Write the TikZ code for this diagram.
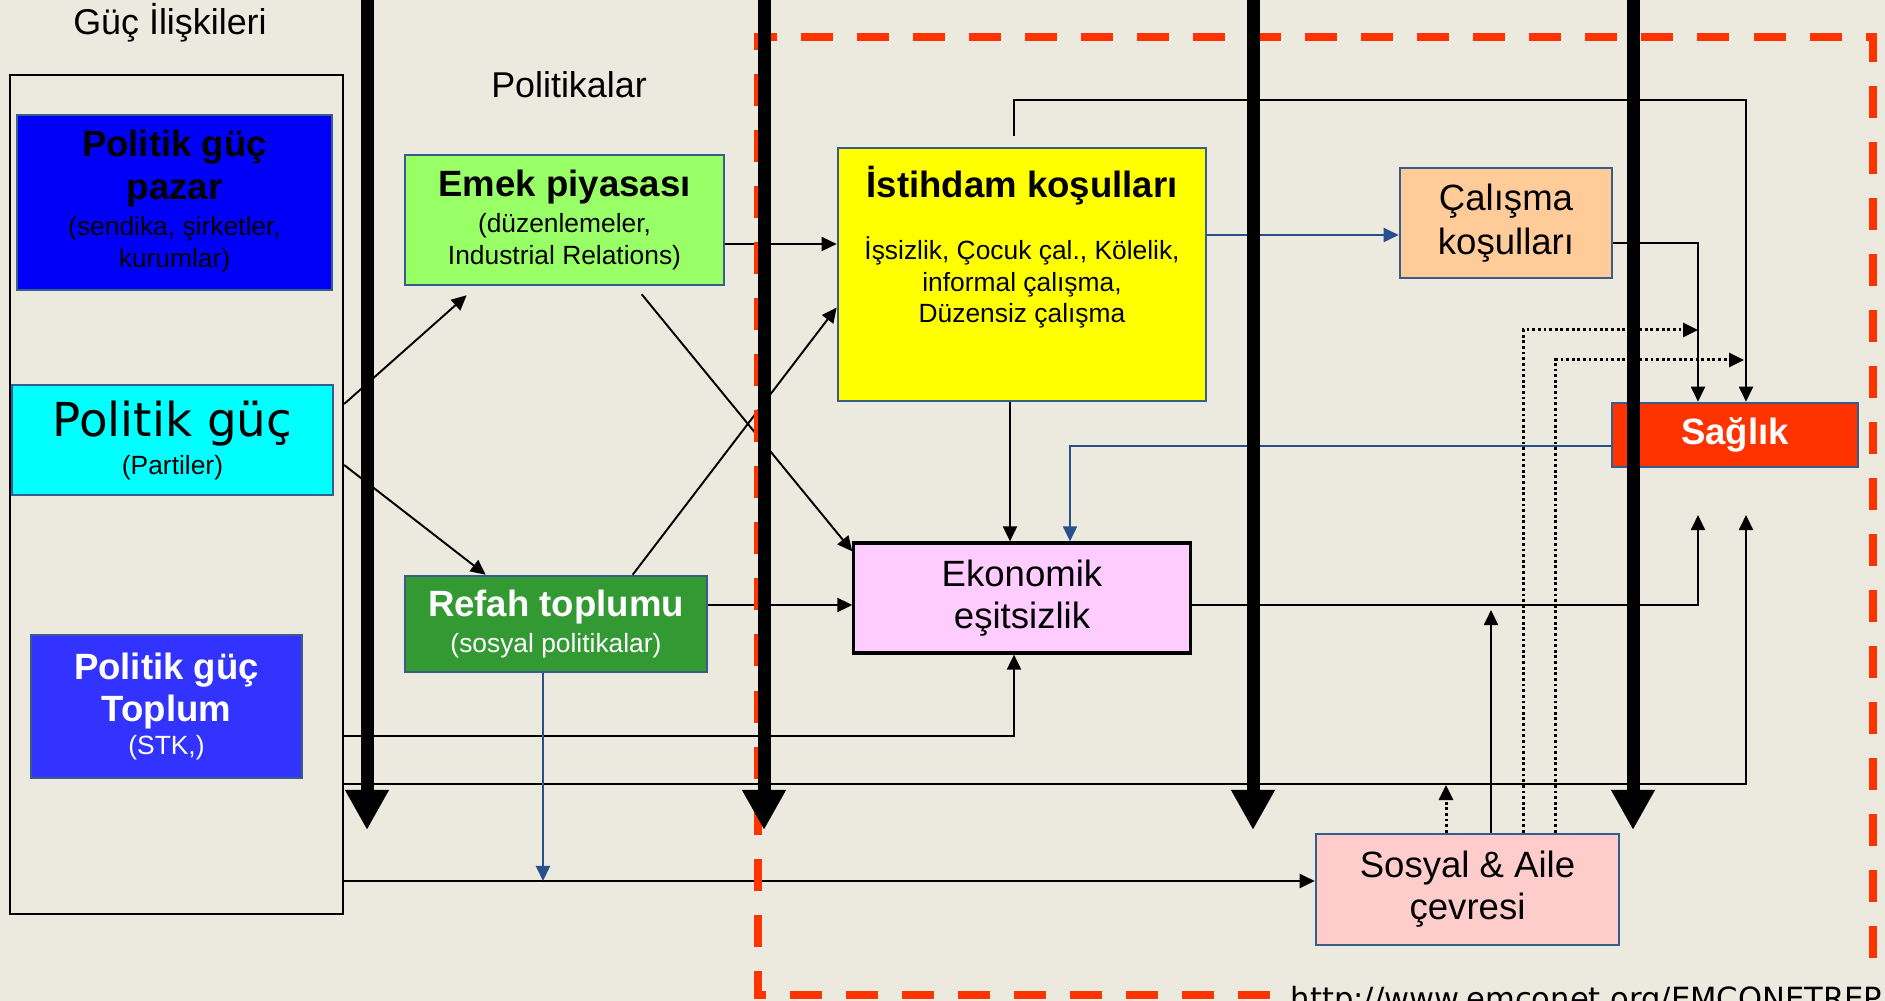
\documentclass[tikz,border=0pt]{standalone}
\usepackage{fontspec}
\setmainfont{Liberation Sans}
\newfontfamily\comicfont{DejaVu Sans}
\usetikzlibrary{arrows.meta,calc}

\definecolor{bgbeige}{RGB}{236,233,223}
\definecolor{pazarblue}{RGB}{0,0,250}
\definecolor{toplumblue}{RGB}{51,51,255}
\definecolor{partilercyan}{RGB}{0,255,255}
\definecolor{emekgreen}{RGB}{153,255,102}
\definecolor{refahgreen}{RGB}{51,153,51}
\definecolor{istihdamyellow}{RGB}{255,255,0}
\definecolor{calismaorange}{RGB}{255,204,153}
\definecolor{saglikred}{RGB}{255,51,0}
\definecolor{ekonomikpink}{RGB}{255,204,255}
\definecolor{sosyalpink}{RGB}{255,204,204}
\definecolor{boxedge}{RGB}{56,93,138}
\definecolor{linkblue}{RGB}{40,80,140}

\newcommand{\bigtxt}{\fontsize{10.4}{0}\selectfont\lineskiplimit=-\maxdimen\relax}
\newcommand{\smalltxt}{\fontsize{7.5}{0}\selectfont\lineskiplimit=-\maxdimen\relax}

\begin{document}
\begin{tikzpicture}[x=0.01cm, y=-0.01cm,
    box/.style={draw=boxedge, line width=0.7pt, align=center, inner sep=1pt, font=\smalltxt},
    conn/.style={line width=0.55pt, -{Triangle[width=0.14cm,length=0.15cm]}},
    blueconn/.style={conn, color=linkblue},
    dotconn/.style={conn, line width=0.85pt, dash pattern=on 0.8pt off 0.8pt},
    bigarrow/.style={line width=0.13cm, -{Triangle[width=0.41cm,length=0.40cm]}},
    heading/.style={anchor=base, font=\fontsize{10.2}{12}\selectfont}]

    \path[use as bounding box, fill=bgbeige] (0,0) rectangle (1885,1001);

    % left column
    \node[heading] (guctitle) at (170,35) {Güç İlişkileri};
    \node[draw, line width=0.6pt, minimum width=3.33cm, minimum height=8.39cm] (frame) at (176.5,494.5) {};
    \node[box, fill=pazarblue, minimum width=3.15cm, minimum height=1.75cm] (pazar) at (174.5,202.5)
        {{\bigtxt\bfseries Politik güç}\\[12pt]{\bigtxt\bfseries pazar}\\[10.4pt](sendika, şirketler,\\[9.1pt]kurumlar)\\[2pt]\mbox{}};
    \node[box, fill=partilercyan, minimum width=3.21cm, minimum height=1.10cm] (partiler) at (172.5,440)
        {{\comicfont\fontsize{13.3}{0}\selectfont Politik güç}\\[10.8pt](Partiler)};
    \node[box, fill=toplumblue, text=white, minimum width=2.71cm, minimum height=1.43cm] (toplum) at (166.5,706.5)
        {{\bigtxt\bfseries Politik güç}\\[12.2pt]{\bigtxt\bfseries Toplum}\\[9.4pt](STK,)};

    % policies
    \node[heading] (politikalar) at (569,98) {Politikalar};
    \node[box, fill=emekgreen, minimum width=3.19cm, minimum height=1.30cm] (emek) at (564.5,220)
        {{\bigtxt\bfseries Emek piyasası}\\[10pt](düzenlemeler,\\[9.1pt]Industrial Relations)};
    \node[box, fill=refahgreen, text=white, minimum width=3.02cm, minimum height=0.96cm] (refah) at (556,624)
        {{\bigtxt\bfseries Refah toplumu}\\[10.5pt](sosyal politikalar)};

    % conditions
    \node[box, fill=istihdamyellow, minimum width=3.68cm, minimum height=2.53cm] (istihdam) at (1022,274.5) {};
    \node[anchor=north, align=center, inner sep=0pt, font=\smalltxt] (istihdamtxt) at ($(istihdam.north)+(0,19)$)
        {{\bigtxt\bfseries İstihdam koşulları}\\[17.6pt]İşsizlik, Çocuk çal., Kölelik,\\[9.1pt]informal çalışma,\\[8.8pt]Düzensiz çalışma};
    \node[box, fill=calismaorange, font=\bigtxt, minimum width=2.12cm, minimum height=1.10cm] (calisma) at (1506,223)
        {Çalışma\\[12.5pt]koşulları};
    \node[box, fill=saglikred, text=white, font=\bigtxt\bfseries, minimum width=2.46cm, minimum height=0.64cm] (saglik) at (1735,435)
        {Sağlık};
    \node[box, draw=black, line width=0.9pt, fill=ekonomikpink, font=\bigtxt, minimum width=3.36cm, minimum height=1.10cm] (ekonomik) at (1022,598)
        {Ekonomik\\[12pt]eşitsizlik};
    \node[box, fill=sosyalpink, font=\bigtxt, minimum width=3.03cm, minimum height=1.11cm] (sosyal) at (1467.5,889.5)
        {Sosyal \& Aile\\[12pt]çevresi};

    \coordinate (runtop) at (1746,100);
    \coordinate (sagup1) at (1698,515);
    \coordinate (sagup2) at (1746,515);
    \coordinate (ekoline) at (1491,610);
    \coordinate (frameline) at (1446,785);
    \coordinate (dotend1) at (1698,330);
    \coordinate (dotend2) at (1744,360);
    \coordinate (refahdrop) at (543,881);

    % connectors
    \draw[conn] (frame.east |- 0,404) -- ($(emek.south west)+(63,9)$);
    \draw[conn] (frame.east |- 0,465) -- ($(refah.north west)+(82,0)$);
    \draw[conn] ($(emek.south west)+(238,8)$) -- ($(ekonomik.north west)+(0,10)$);
    \draw[conn] ($(refah.north west)+(229,0)$) -- ($(istihdam.west)+(0,33)$);
    \draw[conn] (emek.east |- 0,244) -- (istihdam.west |- 0,244);
    \draw[conn] (refah.east |- 0,605) -- (ekonomik.west |- 0,605);
    \draw[blueconn] (istihdam.east |- 0,235) -- (calisma.west |- 0,235);
    \draw[conn] ($(istihdam.north)+(-8,-11)$) |- (runtop) -- (runtop |- saglik.north);
    \draw[conn] (calisma.east |- 0,243) -| ($(saglik.north)+(-37,0)$);
    \draw[conn] ($(istihdam.south)+(-12,0)$) -- ($(ekonomik.north)+(-12,0)$);
    \draw[blueconn] (saglik.west |- 0,446) -| ($(ekonomik.north)+(48,0)$);
    \draw[conn] (ekonomik.east |- 0,605) -| (sagup1);
    \draw[conn] (frame.east |- 0,736) -| ($(ekonomik.south)+(-8,0)$);
    \draw[conn] (frame.east |- 0,784) -| (sagup2);
    \draw[conn] (frame.east |- 0,881) -- (sosyal.west |- 0,881);
    \draw[blueconn] ($(refah.south)+(-13,0)$) -- (refahdrop);
    \draw[dotconn] ($(sosyal.north)+(-21.5,0)$) -- (frameline);
    \draw[conn] ($(sosyal.north)+(23.5,0)$) -- (ekoline);
    \draw[dotconn] ($(sosyal.north)+(55.5,0)$) |- (dotend1);
    \draw[dotconn] ($(sosyal.north)+(87.5,0)$) |- (dotend2);

    % dashed frame
    \draw[saglikred, line width=0.08cm, dash pattern=on 0.32cm off 0.24cm]
        (1270,995) -- (758,995) -- (758,37) -- (1873,37) -- (1873,966);
    \node[anchor=base west, inner sep=0pt, font=\comicfont\fontsize{8.7}{10}\selectfont] (url) at (1290,1009)
        {http://www.emconet.org/EMCONETREP};

    % thick arrows
    \foreach \x in {367,764,1253,1633}
        \draw[bigarrow] (\x,-10) -- (\x,830);
\end{tikzpicture}
\end{document}
